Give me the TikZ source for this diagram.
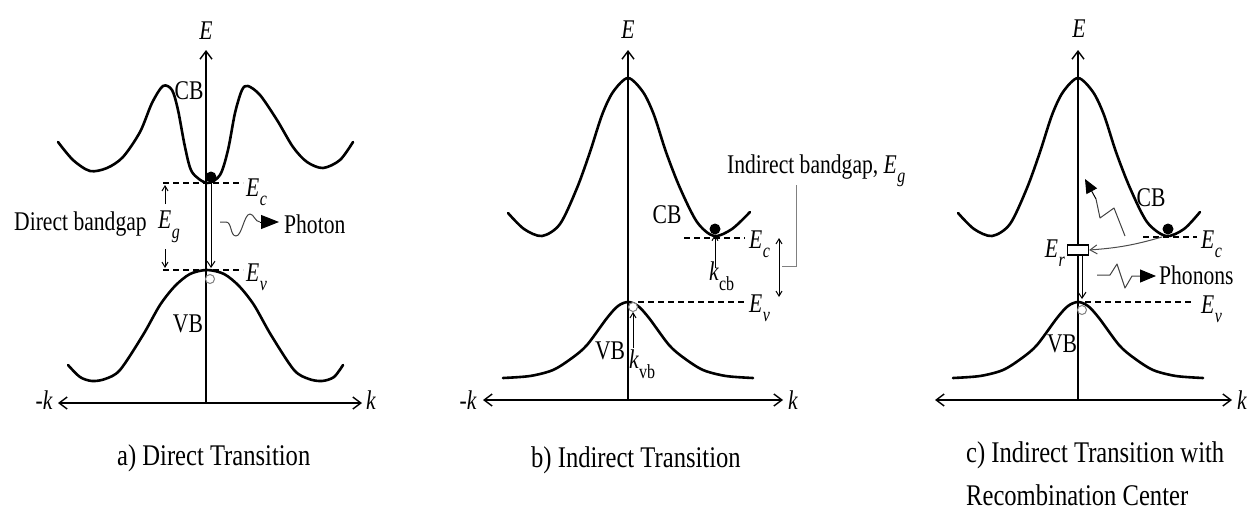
\documentclass[tikz,border=0pt]{standalone}
\usepackage{fontspec}
\setmainfont{Liberation Serif}
\usetikzlibrary{arrows.meta}
\newcommand{\ES}[1]{\textit{E}\kern0.02em\raisebox{-0.35em}{\fontsize{20}{20}\selectfont\textit{#1}}}
\newcommand{\KS}[1]{\textit{k}\raisebox{-0.35em}{\fontsize{20}{20}\selectfont #1}}
\tikzset{
  band/.style={line width=2.6pt, line join=round, line cap=round},
  axisline/.style={line width=1.4pt},
  barb/.style={-{Straight Barb[length=8pt,width=12pt,line width=1.4pt]}},
  dbarb/.style={{Straight Barb[length=8pt,width=12pt,line width=1.4pt]}-{Straight Barb[length=8pt,width=12pt,line width=1.4pt]}},
  lvl/.style={line width=1.8pt, dash pattern=on 6pt off 4pt},
  lbl/.style={font=\fontsize{27}{30}\selectfont, xscale=0.8, inner sep=0pt},
  capt/.style={font=\fontsize{30}{36}\selectfont, xscale=0.82, inner sep=0pt},
  thinarrow/.style={line width=1pt, -{Straight Barb[length=6pt,width=8pt,line width=1pt]}},
  smallarr/.style={line width=1pt, -{Straight Barb[length=5pt,width=6pt,line width=1pt]}},
  elec/.style={circle, fill=black, minimum size=11pt, inner sep=0pt},
  hole/.style={circle, draw=gray, fill=white, minimum size=9pt, inner sep=0pt, line width=1pt},
  wave/.style={line width=1pt, draw=black!75, line join=round},
  tri/.style={-{Triangle[length=18pt,width=14pt]}},
}
\begin{document}
\begin{tikzpicture}[x=1pt,y=-1pt]
\useasboundingbox (0,0) rectangle (1250,514);

% ================= Panel a =================
\coordinate (aEbot) at (206,403);
\coordinate (aEtop) at (206,50);
\coordinate (akL) at (58,403);
\coordinate (akR) at (362,403);
\draw[band] plot[smooth,tension=0.5] coordinates {(58,142) (73,160) (90,171) (107,168) (123,157) (140,132) (152,103) (163,86) (172,90) (178,110) (185,147) (192,172) (207,183) (220,175) (228,150) (235,113) (242,90) (248,86) (260,95) (277,120) (293,147) (307,162) (323,168) (340,160) (353,142)};
\draw[band] plot[smooth,tension=0.5] coordinates {(68,365) (80,377) (92,381) (105,379) (120,370) (143,335) (160,305) (175,286) (190,274) (207,270) (224,274) (239,286) (254,305) (271,335) (294,370) (309,379) (322,381) (334,377) (343,365)};
\draw[axisline,barb] (aEbot) -- (aEtop);
\draw[axisline,dbarb] (akL) -- (akR);
\node[lbl] (aE) at (206,31) {\textit{E}};
\node[lbl,anchor=east] (amk) at (53,400) {-\textit{k}};
\node[lbl,anchor=west] (ak) at (366,400) {\textit{k}};
\node[lbl] (aCB) at (189,91) {CB};
\node[lbl] (aVB) at (188,324) {VB};
\coordinate (aEcL) at (163,183);
\coordinate (aEcR) at (243,183);
\coordinate (aEvL) at (163,270);
\coordinate (aEvR) at (243,270);
\draw[lvl] (aEcL) -- (aEcR);
\draw[lvl] (aEvL) -- (aEvR);
\node[lbl,anchor=west] (aEc) at (246,192) {\ES{c}};
\node[lbl,anchor=west] (aEv) at (246,277) {\ES{v}};
\node[elec] (ae) at (211,177) {};
\node[hole] (ah) at (210,279) {};
\coordinate (aTend) at (211,268);
\draw[thinarrow] (ae.south) -- (aTend);
\coordinate (ag1) at (165,204);
\coordinate (ag2) at (165,185);
\coordinate (ag3) at (165,249);
\coordinate (ag4) at (165,268);
\draw[smallarr] (ag1) -- (ag2);
\draw[smallarr] (ag3) -- (ag4);
\node[lbl] (aEg) at (169,227) {\ES{g}};
\node[lbl,anchor=west] (aDB) at (14,224) {Direct bandgap};
\coordinate (aw0) at (220,222);
\coordinate (awtip) at (279,222);
\draw[wave] (aw0) -- (226,222) .. controls (232,222) and (230,236) .. (236,236) .. controls (242,236) and (244,214) .. (250,214) .. controls (254,214) and (255,222) .. (260,222);
\draw[wave,tri,draw=black] (260,222) -- (awtip);
\node[lbl,anchor=west] (aPh) at (284,224) {Photon};
\node[capt,anchor=base west] (acap) at (117,465) {a) Direct Transition};

% ================= Panel b =================
\coordinate (bEbot) at (628,400);
\coordinate (bEtop) at (628,50);
\coordinate (bkL) at (483,400);
\coordinate (bkR) at (783,400);
\draw[band] plot[smooth,tension=0.5] coordinates {(508,213) (524,229) (542,236) (560,224) (577,188) (590,152) (602,115) (613,92) (628,78) (643,92) (654,115) (666,152) (680,188) (697,222) (714,236) (732,229) (750,212)};
\draw[band] plot[smooth,tension=0.5] coordinates {(503,378) (530,376) (553,370) (572,358) (587,345) (607,318) (618,306) (628,302) (638,306) (649,318) (669,345) (684,358) (703,370) (726,376) (753,378)};
\draw[axisline,barb] (bEbot) -- (bEtop);
\draw[axisline,dbarb] (bkL) -- (bkR);
\node[lbl] (bE) at (628,30) {\textit{E}};
\node[lbl,anchor=east] (bmk) at (477,400) {-\textit{k}};
\node[lbl,anchor=west] (bk) at (788,400) {\textit{k}};
\node[lbl] (bCB) at (667,215) {CB};
\node[lbl] (bVB) at (610,351) {VB};
\node[elec] (be) at (715,229) {};
\node[hole] (bh) at (633,307) {};
\coordinate (bEcL) at (684,238);
\coordinate (bEcR) at (745,238);
\coordinate (bEvL) at (638,302);
\coordinate (bEvR) at (745,302);
\draw[lvl] (bEcL) -- (bEcR);
\draw[lvl] (bEvL) -- (bEvR);
\node[lbl,anchor=west] (bEc) at (749,244) {\ES{c}};
\node[lbl,anchor=west] (bEv) at (749,308) {\ES{v}};
\coordinate (bkc0) at (715,268);
\draw[smallarr] (bkc0) -- (be.south);
\node[lbl,anchor=north west] (bkcb) at (709,262) {\KS{cb}};
\coordinate (bkv0) at (633,348);
\draw[smallarr] (bkv0) -- (bh.south);
\node[lbl,anchor=north west] (bkvb) at (629,350) {\KS{vb}};
\coordinate (bg1) at (779,238);
\coordinate (bg2) at (779,297);
\draw[line width=1pt,{Straight Barb[length=5pt,width=6pt,line width=1pt]}-{Straight Barb[length=5pt,width=6pt,line width=1pt]}] (bg1) -- (bg2);
\coordinate (bbr1) at (782,266);
\coordinate (bbr2) at (796,266);
\coordinate (bbr3) at (796,185);
\draw[gray,line width=1pt] (bbr1) -- (bbr2) -- (bbr3);
\node[lbl,anchor=base west] (bIB) at (727,173) {Indirect bandgap, \ES{g}};
\node[capt,anchor=base west] (bcap) at (531,467) {b) Indirect Transition};

% ================= Panel c =================
\coordinate (cEbot) at (1078,400);
\coordinate (cEtop) at (1078,50);
\coordinate (ckL) at (935,400);
\coordinate (ckR) at (1232,400);
\begin{scope}[xshift=450pt]
\draw[band] plot[smooth,tension=0.5] coordinates {(508,213) (524,229) (542,236) (560,224) (577,188) (590,152) (602,115) (613,92) (628,78) (643,92) (654,115) (666,152) (680,188) (697,222) (716,236) (734,229) (750,212)};
\draw[band] plot[smooth,tension=0.5] coordinates {(503,378) (530,376) (553,370) (572,358) (587,345) (607,318) (618,306) (628,302) (638,306) (649,318) (669,345) (684,358) (703,370) (726,376) (753,378)};
\end{scope}
\draw[axisline,barb] (cEbot) -- (cEtop);
\draw[axisline,dbarb] (ckL) -- (ckR);
\node[lbl] (cE) at (1079,29) {\textit{E}};
\node[lbl,anchor=west] (ck) at (1237,400) {\textit{k}};
\node[lbl] (cCB) at (1151,198) {CB};
\node[lbl] (cVB) at (1062,344) {VB};
\node[elec] (ce) at (1168,229) {};
\node[hole] (ch) at (1082,310) {};
\coordinate (cEcL) at (1143,237);
\coordinate (cEcR) at (1197,237);
\coordinate (cEvL) at (1085,302);
\coordinate (cEvR) at (1193,302);
\draw[lvl] (cEcL) -- (cEcR);
\draw[lvl] (cEvL) -- (cEvR);
\node[lbl,anchor=west] (cEc) at (1201,244) {\ES{c}};
\node[lbl,anchor=west] (cEv) at (1201,309) {\ES{v}};
\node[draw, fill=white, minimum width=21pt, minimum height=10pt, inner sep=0pt, line width=1.3pt] (cEr) at (1078,250) {};
\node[lbl,anchor=east] (cErl) at (1065,253) {\ES{r}};
\coordinate (cfrom) at (1162,237);
\draw[black!70, line width=1pt, -{Straight Barb[length=7pt,width=9pt,line width=1pt]}] (cfrom) to[bend left=6] (cEr.east);
\coordinate (cdown) at (1082,299);
\draw[thinarrow] (1082,255.5) -- (cdown);
\coordinate (cz0) at (1125,236);
\coordinate (cztip) at (1085,179);
\draw[wave] (cz0) -- (1114,208) -- (1100,218) -- (1096,199);
\draw[wave,draw=black,-{Triangle[length=14pt,width=12pt]}] (1096,199) -- (cztip);
\coordinate (cp0) at (1097,275);
\coordinate (cptip) at (1156,276);
\draw[wave] (cp0) -- (1110,275) -- (1117,264) -- (1125,288) -- (1132,276) -- (1140,276);
\draw[wave,draw=black,-{Triangle[length=16pt,width=13pt]}] (1140,276) -- (cptip);
\node[lbl,anchor=west] (cPh) at (1159,275) {Phonons};
\node[capt,anchor=base west] (ccap1) at (966,462) {c) Indirect Transition with};
\node[capt,anchor=base west] (ccap2) at (966,505) {Recombination Center};
\end{tikzpicture}
\end{document}
